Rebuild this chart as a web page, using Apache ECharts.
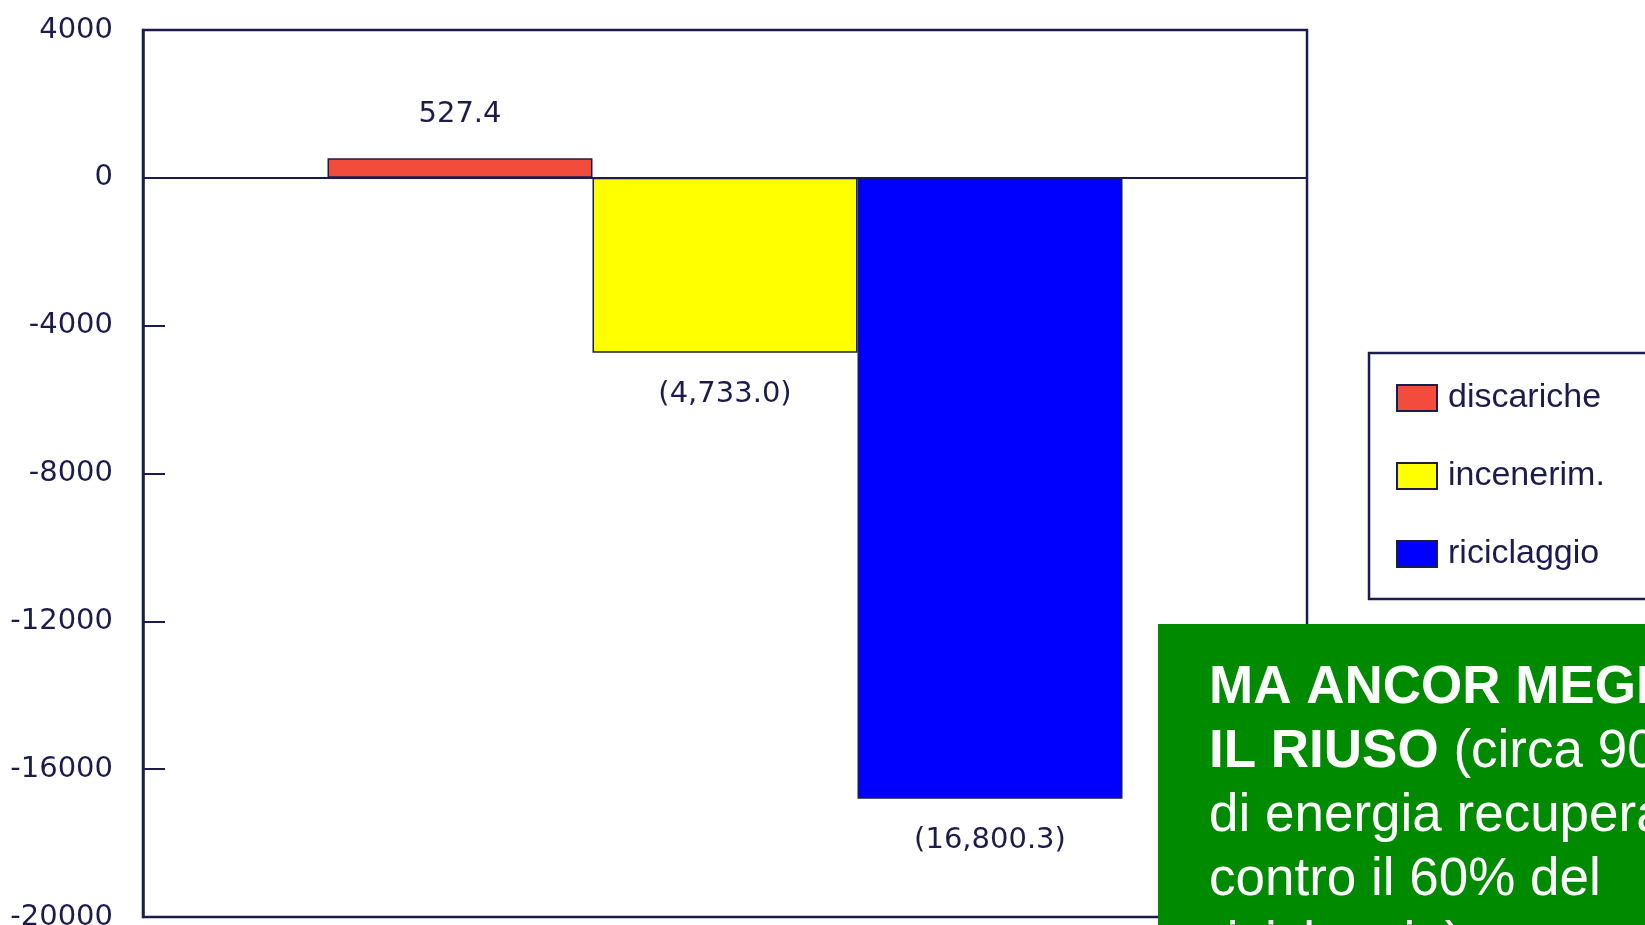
<!DOCTYPE html>
<html>
<head>
<meta charset="utf-8">
<script src="https://cdn.jsdelivr.net/npm/echarts@6/dist/echarts.min.js"></script>
<style>
  html, body { margin: 0; padding: 0; background: #ffffff; overflow: hidden; }
  #chart { width: 1645px; height: 925px; }
</style>
</head>
<body>
<div id="chart"></div>
<script>
// Bilancio energetico per modalità di gestione dei rifiuti
const categories = [''];
const seriesNames = ['discariche', 'incenerim.', 'riciclaggio'];
const discaricheValues = [527.4];
const incenerimValues = [-4733.0];
const riciclaggioValues = [-16800.3];
const seriesColors = ['#f24c3c', '#ffff00', '#0000ff'];
const yTicks = { min: -20000, max: 4000, interval: 4000 };

const INK = '#1c1c4c';
const FONT = '"Liberation Sans", Arial, sans-serif';
const NUM_FONT = '"DejaVu Sans", sans-serif';

// Positive values plain, negative values in accounting parentheses
function fmtValue(v) {
  if (v >= 0) return v.toFixed(1);
  return '(' + Math.abs(v).toLocaleString('en-US', { minimumFractionDigits: 1, maximumFractionDigits: 1 }) + ')';
}

function makeSeries(name, values, color) {
  return {
    name: name,
    type: 'bar',
    barWidth: 265,
    barGap: '0%',
    data: values.map(v => ({
      value: v,
      label: v >= 0 ? { position: 'top', distance: 29 } : { position: 'bottom', distance: 27 }
    })),
    itemStyle: { color: color, borderColor: INK, borderWidth: 1.5 },
    label: {
      show: true,
      color: INK,
      fontFamily: NUM_FONT,
      fontSize: 29,
      formatter: p => fmtValue(p.value)
    }
  };
}

const chart = echarts.init(document.getElementById('chart'), null, { renderer: 'canvas' });
chart.setOption({
  backgroundColor: '#ffffff',
  animation: false,
  grid: {
    left: 143, top: 30, right: 338, bottom: 8,
    containLabel: false,
    outerBoundsMode: 'none',
    show: true, borderColor: INK, borderWidth: 2.5, backgroundColor: 'transparent'
  },
  legend: {
    orient: 'vertical',
    left: 1369,
    top: 353,
    padding: [28, 60, 28, 27],
    itemGap: 44,
    itemWidth: 40,
    itemHeight: 26,
    icon: 'rect',
    borderColor: INK,
    borderWidth: 2.5,
    backgroundColor: '#ffffff',
    textStyle: { color: INK, fontFamily: FONT, fontSize: 34, padding: [0, 0, 0, 6] },
    data: seriesNames
  },
  xAxis: {
    type: 'category',
    data: categories,
    axisLine: { show: true, onZero: true, lineStyle: { color: INK, width: 2 } },
    axisTick: { show: false },
    axisLabel: { show: false },
    splitLine: { show: false }
  },
  yAxis: {
    type: 'value',
    min: yTicks.min,
    max: yTicks.max,
    interval: yTicks.interval,
    axisLine: { show: true, lineStyle: { color: INK, width: 2.5 } },
    axisTick: { show: true, inside: true, length: 22, lineStyle: { color: INK, width: 2 } },
    axisLabel: {
      color: INK, fontFamily: NUM_FONT, fontSize: 29, margin: 30,
      padding: [0, 0, 6, 0],
      formatter: v => String(v)
    },
    splitLine: { show: false }
  },
  series: [
    makeSeries(seriesNames[0], discaricheValues, seriesColors[0]),
    makeSeries(seriesNames[1], incenerimValues, seriesColors[1]),
    makeSeries(seriesNames[2], riciclaggioValues, seriesColors[2])
  ],
  graphic: [
    {
      type: 'rect',
      left: 1158,
      top: 624,
      z: 100,
      shape: { width: 520, height: 320 },
      style: { fill: '#008a00' }
    },
    {
      type: 'text',
      left: 1209,
      top: 662,
      z: 101,
      style: {
        text: '{b|MA ANCOR MEGLIO}\n{b|IL RIUSO}{n| (circa 90%}\n{n|di energia recuperata}\n{n|contro il 60% del}\n{n|riciclaggio)}',
        fill: '#ffffff',
        rich: {
          b: { fontFamily: FONT, fontSize: 53, fontWeight: 'bold', fill: '#ffffff', lineHeight: 64 },
          n: { fontFamily: FONT, fontSize: 53, fill: '#ffffff', lineHeight: 64 }
        }
      }
    }
  ]
});
</script>
</body>
</html>
